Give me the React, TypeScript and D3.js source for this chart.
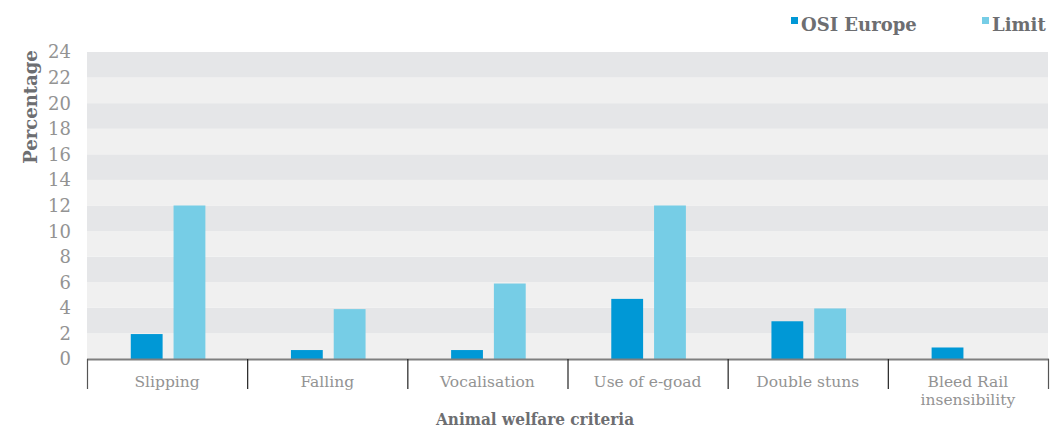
import React from "react";
import * as d3 from "d3";

const categories = ["Slipping", "Falling", "Vocalisation", "Use of e-goad", "Double stuns", "Bleed Rail\ninsensibility"];
const osiEurope = [1.95, 0.7, 0.7, 4.7, 2.95, 0.9];
const limit = [12, 3.9, 5.9, 12, 3.95, 0];
const yTicks = [0, 2, 4, 6, 8, 10, 12, 14, 16, 18, 20, 22, 24];
const seriesNames = ["OSI Europe", "Limit"];

const W = 1052, H = 429;
const M = { left: 87, right: 1048, top: 52, bottom: 359 };
const C_OSI = "#0098d6";
const C_LIM = "#76cde6";
const TXT = "#6d6e71";
const TICK = "#939393";
const FONT = "'DejaVu Serif', serif";
const FONT_C = "'DejaVu Serif Condensed', 'DejaVu Serif', serif";

export default function App() {
  const x = d3.scaleBand<string>().domain(categories).range([M.left, M.right]).paddingInner(0).paddingOuter(0);
  const y = d3.scaleLinear().domain([0, 24]).range([M.bottom, M.top]);
  const inner = d3.scaleBand<string>().domain(seriesNames).range([0, x.bandwidth()]).paddingInner(0.256).paddingOuter(1.0);
  const bands = d3.range(12);
  const vals = [osiEurope, limit];
  const cols = [C_OSI, C_LIM];
  const edges = [...categories.map((c) => x(c)!), M.right];
  return (
    <div style={{ position: "absolute", left: 0, top: 0 }}>
      <svg width={W} height={H} style={{ display: "block" }}>
        {bands.map((i) => (
          <rect key={i} x={M.left} width={M.right - M.left} y={y(2 * i + 2)} height={y(2 * i) - y(2 * i + 2)} fill={i % 2 === 1 ? "#e5e6e8" : "#f0f0f0"} />
        ))}
        {categories.map((c, ci) =>
          seriesNames.map((s, si) => {
            const v = vals[si][ci];
            if (v <= 0) return null;
            return <rect key={c + s} x={x(c)! + inner(s)! + 1} width={inner.bandwidth()} y={y(v)} height={y(0) - y(v)} fill={cols[si]} />;
          })
        )}
        <line x1={M.left} x2={M.right + 1} y1={M.bottom + 0.5} y2={M.bottom + 0.5} stroke="#7f7f7f" strokeWidth={2} />
        {edges.map((e, i) => (
          <line key={i} x1={e + 0.5} x2={e + 0.5} y1={M.bottom} y2={389} stroke={i === 0 || i === edges.length - 1 ? "#555" : "#222"} strokeWidth={1.2} />
        ))}
        {yTicks.map((t) => (
          <text key={t} x={71} y={y(t)} dy="0.36em" textAnchor="end" fontFamily={FONT} fontSize={18} fontWeight={300} fill={TICK}>
            {t}
          </text>
        ))}
        {categories.map((c) => {
          const lines = c.split("\n");
          return (
            <text key={c} x={x(c)! + x.bandwidth() / 2} y={387} textAnchor="middle" fontFamily={FONT} fontSize={15.5} fill={TICK}>
              {lines.map((l, i) => (
                <tspan key={i} x={x(c)! + x.bandwidth() / 2} dy={i === 0 ? 0 : 17.5}>
                  {l}
                </tspan>
              ))}
            </text>
          );
        })}
        <text x={535} y={425} textAnchor="middle" fontFamily={FONT_C} fontSize={17} fontWeight="bold" fill={TXT}>
          Animal welfare criteria
        </text>
        <text transform="translate(37,107) rotate(-90)" textAnchor="middle" fontFamily={FONT} fontSize={18} fontWeight="bold" fill={TXT}>
          Percentage
        </text>
        <rect x={791} y={17} width={7} height={7} fill={C_OSI} />
        <text x={801} y={31} fontFamily={FONT} fontSize={18} fontWeight="bold" fill={TXT}>
          OSI Europe
        </text>
        <rect x={982} y={17} width={7} height={7} fill={C_LIM} />
        <text x={992} y={31} fontFamily={FONT} fontSize={18} fontWeight="bold" fill={TXT}>
          Limit
        </text>
      </svg>
    </div>
  );
}
